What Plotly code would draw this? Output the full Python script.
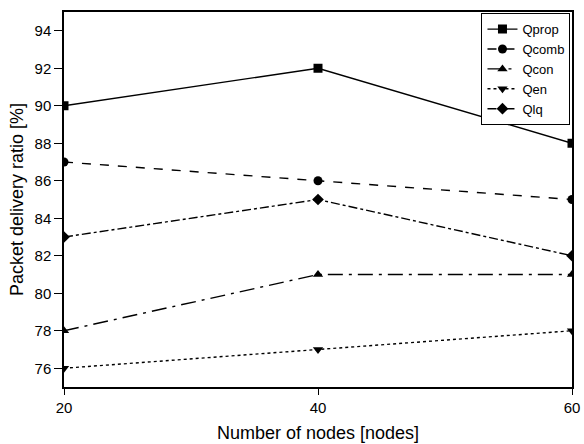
import plotly.graph_objects as go

nodes = [20, 40, 60]
qprop = [90, 92, 88]
qcomb = [87, 86, 85]
qcon = [78, 81, 81]
qen = [76, 77, 78]
qlq = [83, 85, 82]

series = [
    ("Qprop", qprop, "solid", "square"),
    ("Qcomb", qcomb, "dash", "circle"),
    ("Qcon", qcon, "longdashdot", "triangle-up"),
    ("Qen", qen, "dot", "triangle-down"),
    ("Qlq", qlq, "dashdot", "diamond"),
]

fig = go.Figure()
for name, vals, dash, sym in series:
    fig.add_trace(go.Scatter(
        x=nodes, y=vals, name=name, mode="lines+markers",
        line=dict(color="black", width=1.4, dash=dash),
        marker=dict(symbol=sym, size=9, color="black"),
    ))

fig.update_layout(
    width=584, height=444,
    margin=dict(l=64, r=12, t=12, b=57, autoexpand=False),
    paper_bgcolor="white", plot_bgcolor="white",
    font=dict(family="Liberation Sans, Arial, sans-serif", color="black", size=15),
    legend=dict(x=0.997, y=0.997, xanchor="right", yanchor="top",
                bordercolor="black", borderwidth=1, bgcolor="white",
                font=dict(size=13), tracegroupgap=0, itemwidth=30),
    showlegend=True,
)
fig.update_xaxes(
    range=[20, 60], tickvals=[20, 40, 60], showgrid=False, zeroline=False,
    showline=True, linecolor="black", linewidth=1.5, mirror=True,
    ticks="outside", ticklen=6, tickcolor="black", automargin=False,
    title=dict(text="Number of nodes [nodes]", font=dict(size=18), standoff=12),
)
fig.update_yaxes(
    range=[75, 95], tickvals=[76, 78, 80, 82, 84, 86, 88, 90, 92, 94],
    showgrid=False, zeroline=False,
    showline=True, linecolor="black", linewidth=1.5, mirror=True,
    ticks="outside", ticklen=8, tickcolor="black", automargin=False,
    title=dict(text="Packet delivery ratio [%]", font=dict(size=18), standoff=6),
)
fig.write_html("out.html", config={"displayModeBar": False},
               post_script="document.body.style.margin='0';")
